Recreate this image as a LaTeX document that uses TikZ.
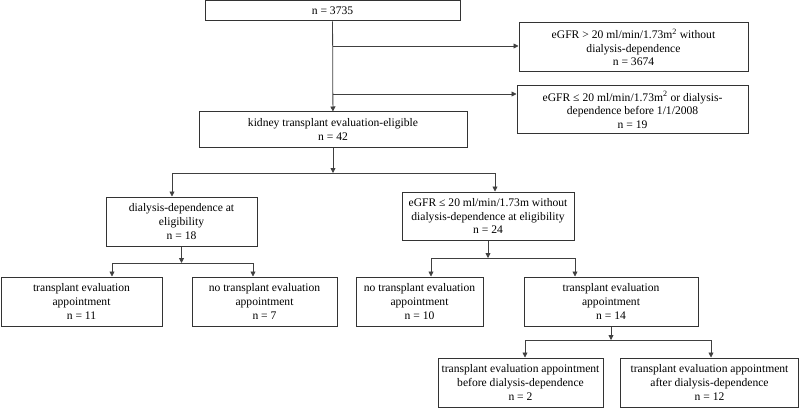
\documentclass[tikz,border=0pt]{standalone}
\usepackage{fontspec}
\setmainfont{Liberation Serif}
\usetikzlibrary{arrows.meta}
\begin{document}
\begin{tikzpicture}[x=1pt,y=-1pt,
    box/.style={draw=black!80, line width=1pt, align=center, inner sep=2pt,
      font=\fontsize{11.6}{13.6}\selectfont},
    arr/.style={draw=black!75, line width=0.8pt, -{Triangle[length=5pt,width=5pt]}}]
  \useasboundingbox (0,0) rectangle (800,409);
  \node[box, minimum width=255pt, minimum height=20pt] (total) at (332.5,11) {n = 3735};
  \node[box, minimum width=229pt, minimum height=49pt] (hi) at (633.5,47.5)
    {eGFR > 20 ml/min/1.73m\textsuperscript{2} without\\dialysis-dependence\\n = 3674};
  \node[box, minimum width=231pt, minimum height=48pt] (lo) at (632.5,110)
    {eGFR ≤ 20 ml/min/1.73m\textsuperscript{2} or dialysis-\\dependence before 1/1/2008\\n = 19};
  \node[box, minimum width=268pt, minimum height=35pt] (elig) at (333,129.5)
    {kidney transplant evaluation-eligible\\n = 42};
  \node[box, minimum width=151pt, minimum height=49pt] (dial) at (181.5,221.5)
    {dialysis-dependence at\\eligibility\\n = 18};
  \node[box, minimum width=172pt, minimum height=48pt] (nodial) at (488,216)
    {eGFR ≤ 20 ml/min/1.73m without\\dialysis-dependence at eligibility\\n = 24};
  \node[box, minimum width=161pt, minimum height=49pt] (appt11) at (81.5,301.5)
    {transplant evaluation\\appointment\\n = 11};
  \node[box, minimum width=145pt, minimum height=49pt] (noappt7) at (264.5,301.5)
    {no transplant evaluation\\appointment\\n = 7};
  \node[box, minimum width=127pt, minimum height=49pt] (noappt10) at (419.5,301.5)
    {no transplant evaluation\\appointment\\n = 10};
  \node[box, minimum width=174pt, minimum height=49pt] (appt14) at (611,301.5)
    {transplant evaluation\\appointment\\n = 14};
  \node[box, minimum width=165pt, minimum height=49pt] (before) at (520.5,382.5)
    {transplant evaluation appointment\\before dialysis-dependence\\n = 2};
  \node[box, minimum width=178pt, minimum height=49pt] (after) at (709.5,382.5)
    {transplant evaluation appointment\\after dialysis-dependence\\n = 12};

  \coordinate (hiin) at ([yshift=1.5pt]hi.west);
  \coordinate (loin) at ([yshift=16pt]lo.west);
  \coordinate (j1) at (333,173);
  \coordinate (j2) at (181.5,263);
  \coordinate (j3) at (488,258);
  \coordinate (j4) at (611,340);

  \draw[arr] (total) -- (elig);
  \draw[arr] (total.south |- hiin) -- (hiin);
  \draw[arr] (total.south |- loin) -- (loin);

  \draw[arr] (elig) -- (j1);
  \draw[arr] (j1) -| ([xshift=-9.5pt]dial.north);
  \draw[arr] (j1) -| ([xshift=7pt]nodial.north);

  \draw[arr] (dial) -- (j2);
  \draw[arr] (j2) -| ([xshift=30.5pt]appt11.north);
  \draw[arr] (j2) -| ([xshift=-11.5pt]noappt7.north);

  \draw[arr] (nodial) -- (j3);
  \draw[arr] (j3) -| ([xshift=11.5pt]noappt10.north);
  \draw[arr] (j3) -| ([xshift=-36pt]appt14.north);

  \draw[arr] (appt14) -- (j4);
  \draw[arr] (j4) -| ([xshift=4.5pt]before.north);
  \draw[arr] (j4) -| ([xshift=1.5pt]after.north);
\end{tikzpicture}
\end{document}
